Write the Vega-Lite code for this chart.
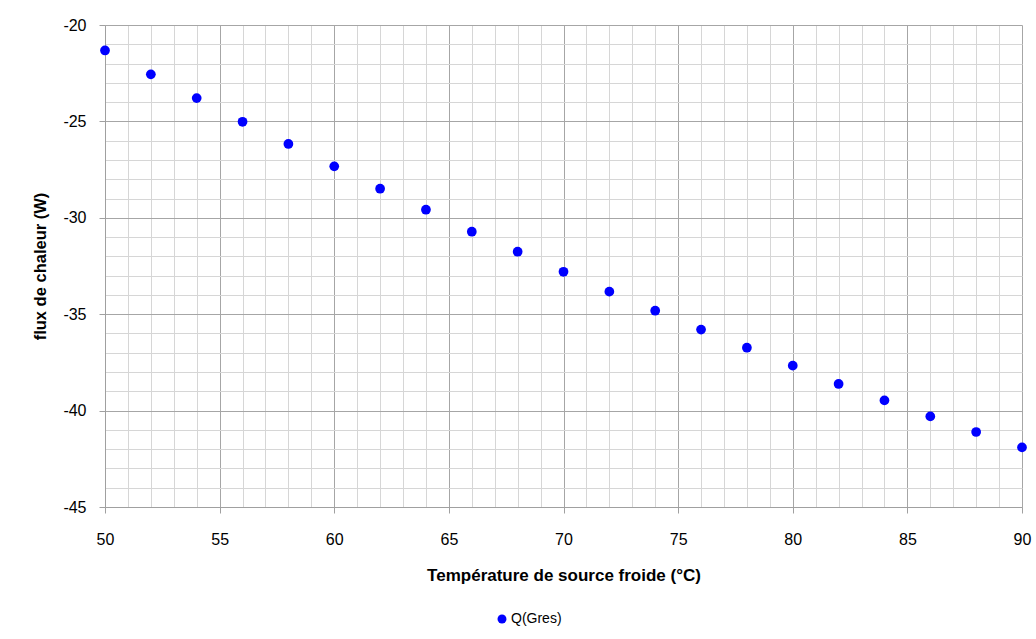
{
  "$schema": "https://vega.github.io/schema/vega-lite/v6.json",
  "autosize": "none",
  "width": 917,
  "height": 482,
  "padding": {"left": 105, "top": 25, "right": 14, "bottom": 132},
  "background": "white",
  "config": {
    "view": {"stroke": null},
    "font": "Liberation Sans",
    "axis": {
      "labelFont": "Liberation Sans",
      "titleFont": "Liberation Sans",
      "labelFontSize": 16,
      "labelColor": "#000000",
      "titleColor": "#000000",
      "titleFontWeight": "bold",
      "domainColor": "#a0a0a0",
      "domainWidth": 1,
      "tickColor": "#a0a0a0",
      "gridWidth": 1,
      "labelFlush": false,
      "labelOverlap": false
    }
  },
  "data": {
    "values": [
      {"t": 50, "q": -21.32, "series": "Q(Gres)"},
      {"t": 52, "q": -22.56, "series": "Q(Gres)"},
      {"t": 54, "q": -23.79, "series": "Q(Gres)"},
      {"t": 56, "q": -25.02, "series": "Q(Gres)"},
      {"t": 58, "q": -26.17, "series": "Q(Gres)"},
      {"t": 60, "q": -27.33, "series": "Q(Gres)"},
      {"t": 62, "q": -28.49, "series": "Q(Gres)"},
      {"t": 64, "q": -29.58, "series": "Q(Gres)"},
      {"t": 66, "q": -30.72, "series": "Q(Gres)"},
      {"t": 68, "q": -31.76, "series": "Q(Gres)"},
      {"t": 70, "q": -32.80, "series": "Q(Gres)"},
      {"t": 72, "q": -33.83, "series": "Q(Gres)"},
      {"t": 74, "q": -34.82, "series": "Q(Gres)"},
      {"t": 76, "q": -35.80, "series": "Q(Gres)"},
      {"t": 78, "q": -36.74, "series": "Q(Gres)"},
      {"t": 80, "q": -37.67, "series": "Q(Gres)"},
      {"t": 82, "q": -38.62, "series": "Q(Gres)"},
      {"t": 84, "q": -39.47, "series": "Q(Gres)"},
      {"t": 86, "q": -40.30, "series": "Q(Gres)"},
      {"t": 88, "q": -41.11, "series": "Q(Gres)"},
      {"t": 90, "q": -41.91, "series": "Q(Gres)"}
    ]
  },
  "mark": {"type": "point", "shape": "circle", "filled": true, "opacity": 1, "size": 95},
  "encoding": {
    "x": {
      "field": "t",
      "type": "quantitative",
      "scale": {"domain": [50, 90], "nice": false, "zero": false},
      "axis": {
        "title": "Température de source froide (°C)",
        "titleFontSize": 17,
        "titlePadding": 20,
        "values": [50,51,52,53,54,55,56,57,58,59,60,61,62,63,64,65,66,67,68,69,70,71,72,73,74,75,76,77,78,79,80,81,82,83,84,85,86,87,88,89,90],
        "labelExpr": "datum.value % 5 === 0 ? toString(datum.value) : ''",
        "labelPadding": 18,
        "tickSize": 6,
        "tickOpacity": {"condition": {"test": "datum.value % 5 === 0", "value": 1}, "value": 0},
        "grid": true,
        "gridColor": {"condition": {"test": "datum.value % 5 === 0", "value": "#a6a6a6"}, "value": "#d6d6d6"}
      }
    },
    "y": {
      "field": "q",
      "type": "quantitative",
      "scale": {"domain": [-45, -20], "nice": false, "zero": false},
      "axis": {
        "title": "flux de chaleur (W)",
        "titleFontSize": 16.5,
        "titlePadding": 14,
        "values": [-45,-44,-43,-42,-41,-40,-39,-38,-37,-36,-35,-34,-33,-32,-31,-30,-29,-28,-27,-26,-25,-24,-23,-22,-21,-20],
        "labelExpr": "datum.value % 5 === 0 ? toString(datum.value) : ''",
        "labelPadding": 13,
        "tickSize": 6,
        "tickOpacity": {"condition": {"test": "datum.value % 5 === 0", "value": 1}, "value": 0},
        "grid": true,
        "gridColor": {"condition": {"test": "datum.value % 5 === 0", "value": "#a6a6a6"}, "value": "#d6d6d6"}
      }
    },
    "color": {
      "field": "series",
      "type": "nominal",
      "scale": {"range": ["#0000FF"]},
      "legend": {
        "title": null,
        "orient": "none",
        "legendX": 390,
        "legendY": 587,
        "symbolType": "circle",
        "symbolSize": 80,
        "symbolOpacity": 1,
        "labelFontSize": 14,
        "labelFont": "Liberation Sans",
        "labelColor": "#000000",
        "labelOffset": 2
      }
    }
  }
}
